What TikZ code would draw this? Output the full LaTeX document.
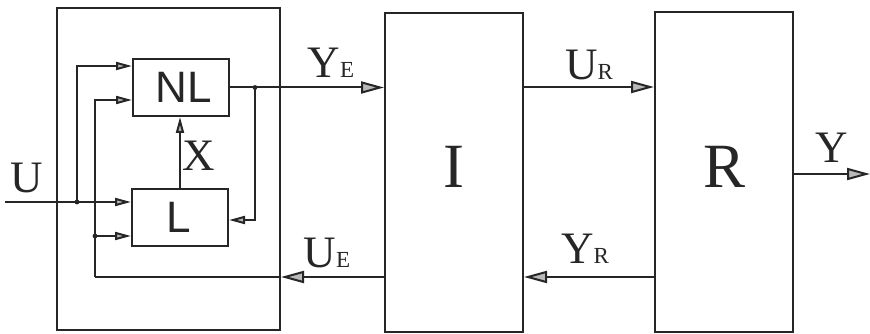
\documentclass[tikz,border=0pt]{standalone}
\usepackage{fontspec}
\setmainfont{Liberation Serif}
\newfontfamily\lsans{Liberation Sans}
\usetikzlibrary{arrows.meta,calc}
\newcommand{\mysub}[1]{{\fontsize{23}{25}\selectfont #1}}
\begin{document}
\begin{tikzpicture}[x=1pt,y=-1pt,line width=2pt,
  box/.style={draw=black!85,line width=2pt,inner sep=0pt},
  conn/.style={draw=black!85,line width=2pt},
  bigarr/.style={conn,-{Triangle[length=23pt,width=12pt,fill=gray!55]}},
  smallarr/.style={conn,-{Triangle[length=16pt,width=8pt,fill=gray!55]}},
  lbl/.style={inner sep=0pt,anchor=base,text=black!85,font=\fontsize{45}{48}\selectfont},
  biglbl/.style={inner sep=0pt,anchor=base,text=black!85,font=\fontsize{63}{66}\selectfont},
  sanslbl/.style={inner sep=0pt,anchor=base,text=black!85,font=\lsans\fontsize{44}{46}\selectfont},
  dot/.style={fill=black!85}]
\useasboundingbox (0,0) rectangle (870,334);
% blocks
\node[box,minimum width=223pt,minimum height=322pt] (E) at (168.5,169) {};
\node[box,minimum width=96pt,minimum height=57pt] (NL) at (181,87.5) {};
\node[box,minimum width=96pt,minimum height=57pt] (L) at (180,217.5) {};
\node[box,minimum width=138pt,minimum height=319pt] (I) at (454,172.5) {};
\node[box,minimum width=138pt,minimum height=320pt] (R) at (724,172) {};
% labels
\node[sanslbl] (tNL) at (184,103) {NL};
\node[sanslbl] (tL) at (179,232) {L};
\node[biglbl] (tI) at (454,187) {I};
\node[biglbl] (tR) at (725,187) {R};
\node[lbl] (tU) at (27,193) {U};
\node[lbl] (tX) at (199,170) {X};
\node[lbl] (tYE) at (331,78) {Y\mysub{E}};
\node[lbl] (tUE) at (327,267) {U\mysub{E}};
\node[lbl] (tUR) at (589,80) {U\mysub{R}};
\node[lbl] (tYR) at (585,263) {Y\mysub{R}};
\node[lbl] (tY) at (832,163) {Y};
% coordinates
\coordinate (uin) at (5,202);
\coordinate (j1) at (77,202);
\coordinate (ueC) at (95,277);
\coordinate (j2) at (95,236);
\coordinate (j4) at (255,87.5);
\coordinate (yout) at (870,174);
% inner connections
\draw[smallarr] (uin) -- (uin -| L.west);
\draw[smallarr] (j1) |- ([yshift=21.5pt]NL.west);
\draw[smallarr] (ueC) |- ([yshift=-12.5pt]NL.west);
\draw[smallarr] (j2) -- (j2 -| L.west);
\draw[smallarr] (L.north) -- (L.north |- NL.south);
\draw[smallarr] (j4) |- ([yshift=-2.5pt]L.east);
\fill[dot] (j1) circle (2.4pt);
\fill[dot] (j2) circle (2.4pt);
\fill[dot] (j4) circle (2.4pt);
% outer connections
\draw[bigarr] (NL.east) -- (NL.east -| I.west);
\draw[bigarr] (I.west |- ueC) -- (E.east |- ueC);
\draw[conn] (E.east |- ueC) -- (ueC);
\draw[bigarr] (I.east |- 0,87) -- (R.west |- 0,87);
\draw[bigarr] (R.west |- ueC) -- (I.east |- ueC);
\draw[bigarr] (R.east |- yout) -- (yout);
\end{tikzpicture}
\end{document}
